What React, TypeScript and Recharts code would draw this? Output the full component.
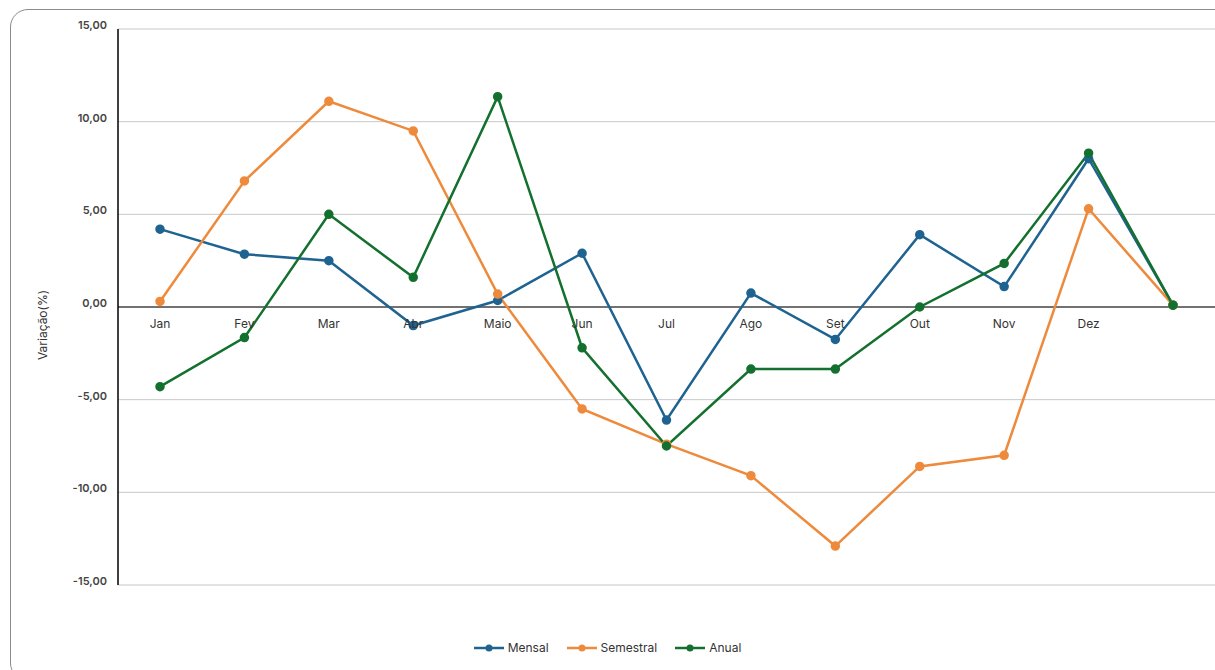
import { LineChart, Line, XAxis, YAxis, CartesianGrid, ReferenceLine, Legend, LabelList } from 'recharts'

const months = ['Jan', 'Fev', 'Mar', 'Abr', 'Maio', 'Jun', 'Jul', 'Ago', 'Set', 'Out', 'Nov', 'Dez', '']
const mensal = [4.2, 2.85, 2.5, -1.0, 0.35, 2.9, -6.1, 0.75, -1.75, 3.9, 1.1, 8.0, 0.1]
const semestral = [0.3, 6.8, 11.1, 9.5, 0.7, -5.5, -7.4, -9.1, -12.9, -8.6, -8.0, 5.3, 0.1]
const anual = [-4.3, -1.65, 5.0, 1.6, 11.35, -2.2, -7.5, -3.35, -3.35, 0.0, 2.35, 8.3, 0.1]
const yTicks = [-15, -10, -5, 0, 5, 10, 15]

const series = [
  { key: 'Mensal', color: '#1f6391' },
  { key: 'Semestral', color: '#ee8a3c' },
  { key: 'Anual', color: '#13702e' },
]

const data = months.map((m, i) => ({
  mes: m,
  zero: 0,
  Mensal: mensal[i],
  Semestral: semestral[i],
  Anual: anual[i],
}))

const fmt = (v: number) => v.toFixed(2).replace('.', ',')
const font = 'Inter, "Noto Sans", sans-serif'

const LegendBox = () => (
  <div style={{ display: 'flex', justifyContent: 'center', gap: 18, fontSize: 12, color: '#333', fontFamily: font, paddingTop: 20 }}>
    {series.map((s) => (
      <div key={s.key} style={{ display: 'flex', alignItems: 'center', gap: 4 }}>
        <svg width={30} height={10}>
          <line x1={0} y1={5} x2={30} y2={5} stroke={s.color} strokeWidth={2.5} />
          <circle cx={15} cy={5} r={3.5} fill={s.color} />
        </svg>
        <span>{s.key}</span>
      </div>
    ))}
  </div>
)

export default function App() {
  return (
    <div style={{ position: 'absolute', left: 0, top: 0, width: 1215, height: 670, fontFamily: font, overflow: 'hidden', background: '#fff' }}>
      <div style={{ position: 'absolute', left: 10, top: 9, width: 1220, height: 670, border: '1.5px solid #8a8a8a', borderRadius: 18 }} />
      <div style={{ position: 'absolute', left: 42, top: 325, transform: 'translate(-50%,-50%) rotate(-90deg)', fontSize: 12, color: '#333', whiteSpace: 'nowrap' }}>
        Variação(%)
      </div>
      <LineChart width={1215} height={670} data={data} margin={{ top: 29, right: 0, left: 0, bottom: 35 }} style={{ position: 'absolute', left: 0, top: 0 }}>
        <CartesianGrid vertical={false} stroke="#c8c8c8" />
        <XAxis dataKey="mes" hide padding={{ left: 42, right: 42 }} />
        <YAxis
          width={118}
          domain={[-15, 15]}
          ticks={yTicks}
          tickFormatter={fmt}
          axisLine={{ stroke: '#000', strokeWidth: 1.5 }}
          tickLine={false}
          tick={{ fill: '#444', fontSize: 11, fontFamily: font, fontWeight: 600, dx: -3, dy: -4 }}
        />
        <ReferenceLine y={0} stroke="#000" strokeWidth={1.2} />
        <Line dataKey="zero" stroke="none" dot={false} activeDot={false} isAnimationActive={false} legendType="none">
          <LabelList dataKey="mes" position="bottom" offset={12} style={{ fill: '#333', fontSize: 12, fontFamily: font }} />
        </Line>
        {series.map((s) => (
          <Line key={s.key} dataKey={s.key} stroke={s.color} strokeWidth={2.5} dot={{ r: 3.5, fill: s.color, stroke: s.color }} isAnimationActive={false} />
        ))}
        <Legend verticalAlign="bottom" height={50} wrapperStyle={{ bottom: 0 }} content={<LegendBox />} />
      </LineChart>
    </div>
  )
}
